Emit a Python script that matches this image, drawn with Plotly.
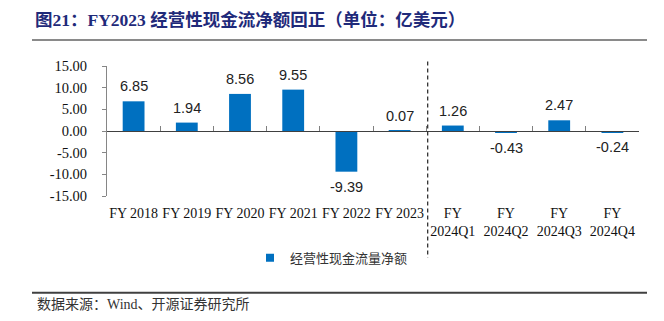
import plotly.graph_objects as go

# Operating cash flow, USD 100m
categories = ["FY 2018", "FY 2019", "FY 2020", "FY 2021", "FY 2022", "FY 2023",
              "FY<br>2024Q1", "FY<br>2024Q2", "FY<br>2024Q3", "FY<br>2024Q4"]
net_ocf = [6.85, 1.94, 8.56, 9.55, -9.39, 0.07, 1.26, -0.43, 2.47, -0.24]
y_ticks = [-15, -10, -5, 0, 5, 10, 15]

series_name = "经营性现金流量净额"
title_text = "图21：FY2023 经营性现金流净额回正（单位：亿美元）"
source_text = "数据来源：Wind、开源证券研究所"

BLUE = "#0070C0"
NAVY = "#1F2A7A"
W, H = 664, 321
L, R, T, B = 107, 25, 65.5, 125

plot_w = W - L - R
plot_h = H - T - B


def px(x):
    return (x - L) / plot_w


def py(y):
    return (H - B - y) / plot_h


serif = "Liberation Serif, Times New Roman, serif"
cjk = "Noto Sans CJK SC, sans-serif"

fig = go.Figure()
fig.add_trace(go.Bar(
    x=list(range(len(categories))), y=net_ocf,
    marker=dict(color=BLUE, line=dict(width=0)),
    width=0.41, showlegend=False, hoverinfo="skip",
))
# legend swatch
fig.add_trace(go.Scatter(
    x=[None], y=[None], mode="markers", name=series_name,
    marker=dict(symbol="square", size=8, color=BLUE),
))

# value labels
for i, v in enumerate(net_ocf):
    fig.add_annotation(
        x=i, y=v, text=f"{v:.2f}", showarrow=False,
        yshift=15 if v >= 0 else -15,
        font=dict(family="Liberation Sans, Arial, sans-serif", size=14.5, color="#222222"),
    )

fig.update_layout(
    width=W, height=H, autosize=False,
    margin=dict(l=L, r=R, t=T, b=B),
    paper_bgcolor="white", plot_bgcolor="white",
    title=dict(text=f"<b>{title_text}</b>", xref="container", yref="container",
               x=35 / W, xanchor="left", y=1 - 20 / H, yanchor="middle",
               font=dict(family=serif + ", " + cjk, size=17.5, color=NAVY)),
    xaxis=dict(
        range=[-0.5, len(categories) - 0.5],
        tickmode="array", tickvals=list(range(len(categories))), ticktext=categories,
        showline=False, ticks="", showgrid=False, zeroline=False,
        ticklabelstandoff=7,
        tickfont=dict(family=serif, size=14, color="#111111"),
    ),
    xaxis2=dict(
        overlaying="x", anchor="free", position=0.5, side="bottom",
        range=[-0.5, len(categories) - 0.5],
        tickmode="array", tickvals=[i - 0.5 for i in range(len(categories) + 1)],
        showticklabels=False, ticks="inside", ticklen=5, tickcolor="#808080", tickwidth=1,
        showline=True, linecolor="#404040", linewidth=1, showgrid=False, zeroline=False,
    ),
    yaxis=dict(
        range=[-15, 15], tickmode="array", tickvals=y_ticks,
        ticktext=[f"{t:.2f}" for t in y_ticks],
        showline=True, linecolor="#868686", linewidth=1,
        ticks="outside", ticklen=4, tickcolor="#868686",
        ticklabelstandoff=12,
        showgrid=False, zeroline=False,
        tickfont=dict(family=serif, size=14.5, color="#111111"),
    ),
    legend=dict(orientation="h", x=px(250), y=py(258), xanchor="left", yanchor="middle",
                font=dict(family=cjk, size=13, color="#333333"),
                bgcolor="rgba(0,0,0,0)", itemwidth=30),
    showlegend=True,
)

# axis line for the zero baseline needs a trace on x2
fig.add_trace(go.Scatter(x=[0], y=[0], xaxis="x2", mode="none", showlegend=False, hoverinfo="skip"))

# separator between annual and quarterly figures
fig.add_shape(type="line", xref="paper", yref="paper",
              x0=px(427.7), x1=px(427.7), y0=py(61), y1=py(258),
              line=dict(color="#222222", width=1.2, dash="4px,3px"))
# rules above and below the chart
fig.add_shape(type="line", xref="paper", yref="paper",
              x0=px(32), x1=px(647), y0=py(39.5), y1=py(39.5),
              line=dict(color="#8a8a8a", width=2))
fig.add_shape(type="line", xref="paper", yref="paper",
              x0=px(32), x1=px(647), y0=py(293), y1=py(293),
              line=dict(color="#404040", width=2))

fig.add_annotation(xref="paper", yref="paper", x=px(35), y=py(305),
                   xanchor="left", yanchor="middle", showarrow=False,
                   text=source_text,
                   font=dict(family=serif + ", " + cjk, size=14, color="#333333"))

fig.write_html("out.html")
